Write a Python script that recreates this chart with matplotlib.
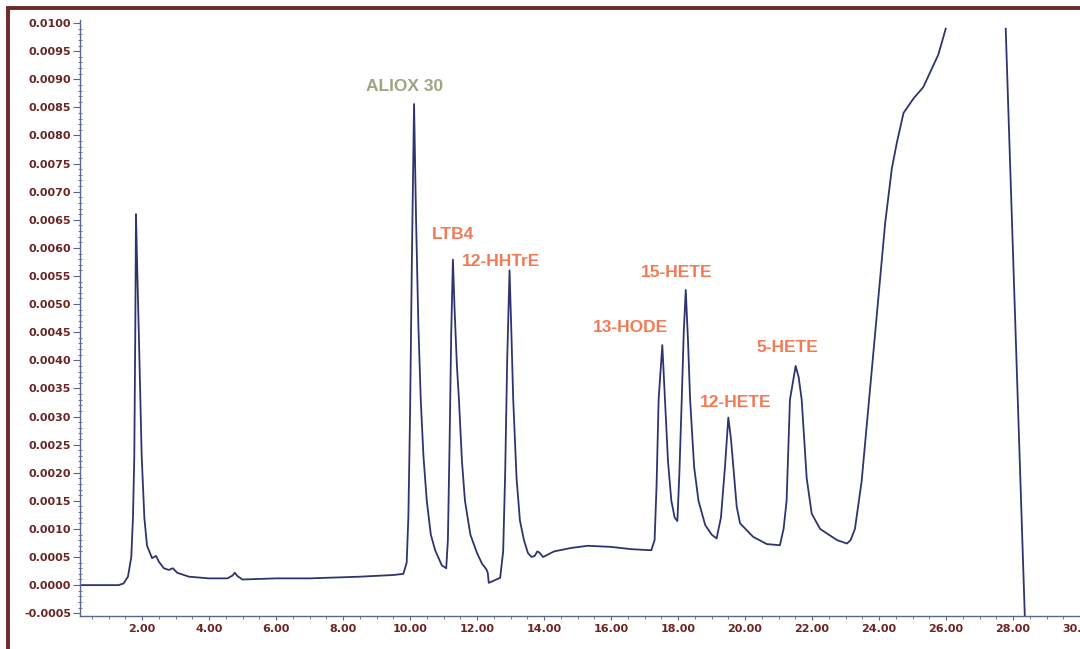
import numpy as np
import matplotlib
matplotlib.use("Agg")
import matplotlib.pyplot as plt
from matplotlib.lines import Line2D
from matplotlib.ticker import MultipleLocator, FormatStrFormatter

# chromatogram trace (time in min, absorbance)
time_min = [
    0.15, 1.30, 1.45, 1.58, 1.68, 1.73, 1.77, 1.80, 1.82, 1.85, 1.90, 1.99, 2.07, 2.15,
    2.30, 2.42, 2.50, 2.65, 2.80, 2.92, 3.05, 3.40, 4.00, 4.55, 4.70, 4.77, 4.85, 5.00,
    6.00, 7.00, 8.50, 9.50, 9.80, 9.90, 9.95, 10.00, 10.06, 10.12, 10.18, 10.25, 10.32,
    10.40, 10.50, 10.62, 10.75, 10.95, 11.08, 11.13, 11.18, 11.23, 11.28, 11.33, 11.40,
    11.46, 11.55, 11.64, 11.80, 12.00, 12.15, 12.28, 12.32, 12.35, 12.50, 12.69, 12.78,
    12.84, 12.90, 12.97, 13.02, 13.08, 13.18, 13.28, 13.40, 13.52, 13.63, 13.72, 13.80,
    13.86, 13.97, 14.30, 14.80, 15.30, 16.00, 16.60, 17.20, 17.30, 17.36, 17.42, 17.53,
    17.61, 17.70, 17.80, 17.90, 17.98, 18.04, 18.11, 18.17, 18.23, 18.30, 18.36, 18.48,
    18.61, 18.81, 19.00, 19.15, 19.28, 19.40, 19.50, 19.58, 19.65, 19.75, 19.85, 20.24,
    20.65, 21.04, 21.15, 21.24, 21.34, 21.51, 21.60, 21.69, 21.84, 21.99, 22.24, 22.44,
    22.75, 23.04, 23.15, 23.28, 23.48, 23.63, 23.78, 23.98, 24.18, 24.38, 24.53, 24.73,
    25.03, 25.32, 25.57, 25.77, 25.99, np.nan, 27.78, 28.35,
]
absorbance = [
    0.0, 0.0, 0.00003, 0.00015, 0.0005, 0.0012, 0.0023, 0.0046, 0.0066, 0.0058, 0.0046,
    0.0023, 0.0012, 0.0007, 0.00048, 0.00052, 0.00042, 0.00030, 0.00027, 0.00030,
    0.00022, 0.00015, 0.00012, 0.00012, 0.00017, 0.00022, 0.00016, 0.00010, 0.00012,
    0.00012, 0.00015, 0.00018, 0.0002, 0.0004, 0.0012, 0.0030, 0.0060, 0.00856, 0.0065,
    0.0046, 0.0033, 0.0023, 0.0015, 0.0009, 0.00062, 0.00035, 0.0003, 0.0008, 0.0025,
    0.0045, 0.00579, 0.0049, 0.0039, 0.0033, 0.0022, 0.0015, 0.0009, 0.00057, 0.00038,
    0.00028, 0.00022, 0.00004, 0.00008, 0.00013, 0.0006, 0.0020, 0.0040, 0.0056, 0.0046,
    0.0033, 0.0019, 0.00115, 0.0008, 0.00057, 0.0005, 0.00052, 0.0006, 0.00058, 0.0005,
    0.0006, 0.00066, 0.0007, 0.00068, 0.00064, 0.00062, 0.0008, 0.0018, 0.0033, 0.00427,
    0.0033, 0.0022, 0.0015, 0.0012, 0.00114, 0.0020, 0.0033, 0.0045, 0.00525, 0.0043,
    0.0033, 0.0021, 0.0015, 0.00107, 0.0009, 0.00083, 0.0012, 0.0021, 0.00298, 0.0026,
    0.0021, 0.0014, 0.0011, 0.00086, 0.00073, 0.00071, 0.0010, 0.0015, 0.0033, 0.0039,
    0.0037, 0.0033, 0.0019, 0.00127, 0.00100, 0.00092, 0.0008, 0.00074, 0.0008, 0.0010,
    0.00185, 0.00282, 0.00381, 0.00512, 0.00643, 0.00741, 0.00787, 0.0084, 0.00866,
    0.00886, 0.00918, 0.00944, 0.0099, np.nan, 0.0099, -0.00055,
]

peak_names = ["ALIOX 30", "LTB4", "12-HHTrE", "13-HODE", "15-HETE", "12-HETE", "5-HETE"]
label_x = [8.69, 10.65, 11.54, 15.47, 16.90, 18.64, 20.33]
label_y = [0.00888, 0.00624, 0.00576, 0.00458, 0.00556, 0.00325, 0.00423]
label_colors = ["#9ea582", "#f27a55", "#f27a55", "#f27a55", "#f27a55", "#f27a55", "#f27a55"]

tick_color = "#6b2424"
axis_color = "#5a6690"

fig = plt.figure(figsize=(10.8, 6.49), dpi=100)
fig.patch.set_facecolor("white")
ax = fig.add_axes([0.0741, 0.0508, 0.957, 0.918])

ax.plot(time_min, absorbance, color="#2f3470", lw=1.3)

ax.set_xlim(0.15, 31)
ax.set_ylim(-0.00055, 0.01005)

for name, x, y, c in zip(peak_names, label_x, label_y, label_colors):
    ax.text(x, y, name, color=c, fontsize=12.5, fontweight="bold",
            family="Liberation Sans", ha="left", va="center")

ax.spines["top"].set_visible(False)
ax.spines["right"].set_visible(False)
for s in ["left", "bottom"]:
    ax.spines[s].set_color(axis_color)
    ax.spines[s].set_linewidth(1.0)

ax.yaxis.set_major_locator(MultipleLocator(0.0005))
ax.yaxis.set_minor_locator(MultipleLocator(0.0001))
ax.yaxis.set_major_formatter(FormatStrFormatter("%.4f"))
ax.xaxis.set_major_locator(MultipleLocator(2))
ax.xaxis.set_minor_locator(MultipleLocator(0.5))
ax.xaxis.set_major_formatter(FormatStrFormatter("%.2f"))

ax.tick_params(axis="y", which="major", direction="out", length=5, width=0.8,
               color=axis_color, labelcolor=tick_color, labelsize=8, pad=1.5)
ax.tick_params(axis="y", which="minor", direction="inout", length=3, width=0.6,
               color=axis_color)
ax.tick_params(axis="x", which="major", direction="out", length=3, width=0.8,
               color=axis_color, labelcolor=tick_color, labelsize=8, pad=3)
ax.tick_params(axis="x", which="minor", direction="out", length=2, width=0.6,
               color=axis_color)
for lab in ax.get_xticklabels() + ax.get_yticklabels():
    lab.set_fontweight("bold")

# maroon page frame on left and top
frame = "#6e2a2a"
fig.add_artist(Line2D([0.0070, 0.0070], [0.0, 0.9870], transform=fig.transFigure,
                      color=frame, lw=2.8, solid_capstyle="butt"))
fig.add_artist(Line2D([0.0055, 1.0], [0.9870, 0.9870], transform=fig.transFigure,
                      color=frame, lw=2.8, solid_capstyle="butt"))

fig.savefig("out.png", dpi=100)
